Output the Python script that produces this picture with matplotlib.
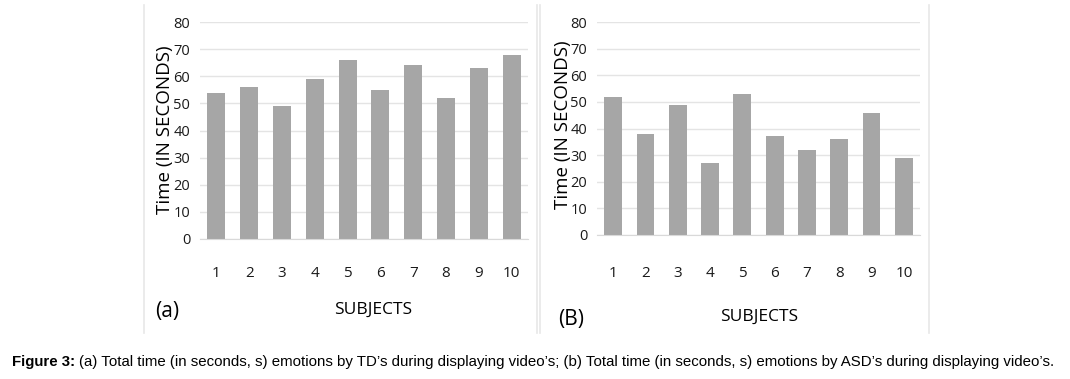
import matplotlib.pyplot as plt
from matplotlib.lines import Line2D

subjects = ["1", "2", "3", "4", "5", "6", "7", "8", "9", "10"]
td_times = [54, 56, 49, 59, 66, 55, 64, 52, 63, 68]
asd_times = [52, 38, 49, 27, 53, 37, 32, 36, 46, 29]
yticks = [0, 10, 20, 30, 40, 50, 60, 70, 80]

W, H = 1070, 379
BAR = "#a6a6a6"
GRID = "#e4e4e4"
FONT = ["Open Sans", "DejaVu Sans"]


def px_axes(fig, x0, x1, ytop, ybot):
    return fig.add_axes([x0 / W, (H - ybot) / H, (x1 - x0) / W, (ybot - ytop) / H])


def draw_panel(ax, values, xpad):
    x = range(len(values))
    ax.bar(x, values, width=0.55, color=BAR, zorder=2)
    ax.set_xlim(-0.5, len(values) - 0.5)
    ax.set_ylim(0, 80)
    ax.set_yticks(yticks)
    ax.set_xticks(list(x))
    ax.set_xticklabels(subjects)
    ax.grid(axis="y", color=GRID, lw=1.0, zorder=0)
    for s in ("top", "left", "right"):
        ax.spines[s].set_visible(False)
    ax.spines["bottom"].set_color("#d9d9d9")
    ax.tick_params(length=0, labelsize=10.5, colors="#1a1a1a")
    ax.tick_params(axis="y", pad=7)
    ax.tick_params(axis="x", pad=xpad, labelsize=11)
    for t in ax.get_xticklabels() + ax.get_yticklabels():
        t.set_family(FONT)


fig = plt.figure(figsize=(W / 100, H / 100), dpi=100)

ax1 = px_axes(fig, 200, 528, 22, 239)
draw_panel(ax1, td_times, 19.5)
ax2 = px_axes(fig, 597, 920, 22, 235)
draw_panel(ax2, asd_times, 22)

# light panel frame lines
for xp in (144, 537, 540, 929):
    fig.add_artist(Line2D([xp / W, xp / W], [(H - 333) / H, (H - 5) / H],
                          color="#e8e8e8", lw=1.2))

fig.text(165 / W, (H - 130) / H, "Time (IN SECONDS)", rotation=90,
         ha="center", va="center", fontsize=13.5, family=FONT)
fig.text(563 / W, (H - 125) / H, "Time (IN SECONDS)", rotation=90,
         ha="center", va="center", fontsize=13.5, family=FONT)
fig.text(373 / W, (H - 310) / H, "SUBJECTS", ha="center", va="center",
         fontsize=12.5, family=FONT)
fig.text(759 / W, (H - 317) / H, "SUBJECTS", ha="center", va="center",
         fontsize=12.5, family=FONT)
fig.text(167 / W, (H - 312) / H, "(a)", ha="center", va="center",
         fontsize=15, family=FONT)
fig.text(571 / W, (H - 320) / H, "(B)", ha="center", va="center",
         fontsize=15, family=FONT)

cap_y = (H - 362) / H
t1 = fig.text(12 / W, cap_y, "Figure 3:", ha="left", va="center",
              fontsize=10.8, weight="bold", family="Liberation Sans")
fig.canvas.draw()
bb = t1.get_window_extent()
fig.text((bb.x1 + 4) / W, cap_y,
         "(a) Total time (in seconds, s) emotions by TD\u2019s during displaying video\u2019s; "
         "(b) Total time (in seconds, s) emotions by ASD\u2019s during displaying video\u2019s.",
         ha="left", va="center", fontsize=10.8, family="Liberation Sans")

fig.savefig("out.png", dpi=100)
